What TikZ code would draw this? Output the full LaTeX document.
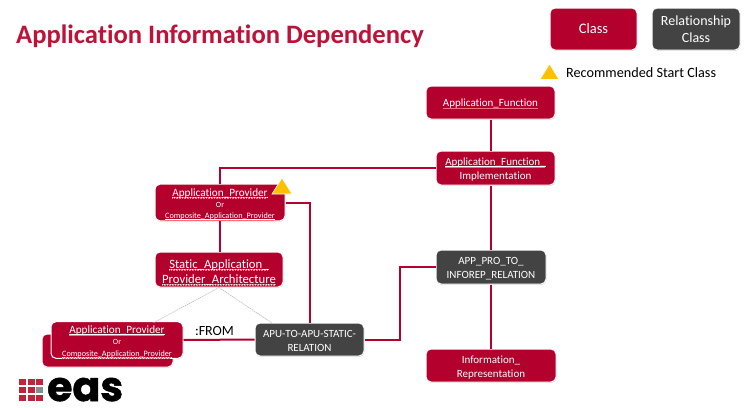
\documentclass[tikz,border=0pt]{standalone}
\usepackage{fontspec}
\setmainfont{Carlito}[Ligatures=NoCommon]
\newfontfamily\logofont{Poppins}[BoldFeatures={FakeBold=1.3}]
\usetikzlibrary{shadows,calc}
\definecolor{classred}{HTML}{B3002D}
\definecolor{relgrey}{HTML}{434343}
\definecolor{titlered}{HTML}{BE1238}
\definecolor{startyellow}{HTML}{FFC000}
\definecolor{logored}{HTML}{C0243C}
\definecolor{squig}{HTML}{F2707A}
\newsavebox\sqbox
\newcommand\sq[1]{\sbox\sqbox{#1}\rlap{\color{white}\rule[-1.1pt]{\wd\sqbox}{0.45pt}}\rlap{\color{squig}\hbox to\wd\sqbox{\leaders\hbox{\rule[-2.1pt]{0.8pt}{0.6pt}\rule[-1.6pt]{0.8pt}{0.6pt}}\hfil}}\usebox\sqbox}
\newcommand\lift[1]{\rule{0pt}{#1pt}}
\tikzset{
  x=1pt,y=-1pt,
  boxbase/.style={rounded corners=5pt,draw=white,line width=1pt,text=white,align=center,inner sep=0pt,
    drop shadow={shadow xshift=0.4pt,shadow yshift=-0.8pt,opacity=0.3,fill=black!70}},
  classbox/.style={boxbase,fill=classred},
  relbox/.style={boxbase,fill=relgrey},
  conn/.style={draw=classred,line width=2pt},
  fromline/.style={draw=black!30,line width=0.5pt,dash pattern=on 1.5pt off 0.7pt},
  startmark/.style={fill=startyellow,draw=white,line width=0.6pt},
  logosq/.style={fill=logored},
}
\newcommand\boxat[7]{\node[#1,minimum width=#6 pt - #4 pt,minimum height=#7 pt - #5 pt] (#2) at ({(#4+#6)/2},{(#5+#7)/2}) {#3};}
\begin{document}
\begin{tikzpicture}
\useasboundingbox (0,0) rectangle (744,407);
\fill[white] (0,0) rectangle (744,407);
% nodes
\node[anchor=west,text=titlered,font=\fontsize{26.6}{28}\selectfont\bfseries,inner sep=0pt] (title) at (16,36) {Application Information Dependency};
\boxat{classbox,font=\fontsize{14.5}{15}\selectfont}{legclass}{Class}{550}{8}{637}{50}
\boxat{relbox,font=\fontsize{14}{17}\selectfont}{legrel}{Relationship\\Class}{652}{8}{740}{50}
\node[anchor=west,font=\fontsize{14.2}{15}\selectfont,inner sep=0pt] (legstart) at (566,73) {Recommended Start Class};
\boxat{classbox,font=\fontsize{11}{14}\selectfont}{af}{\lift{11}\sq{Application\_Function}}{426}{86}{555}{119}
\boxat{classbox,font=\fontsize{11}{14}\selectfont}{afi}{\lift{11}\sq{Application\_Function\_}\\Implementation}{436}{151}{555}{185}
\boxat{relbox,font=\fontsize{11}{14}\selectfont}{pro}{\lift{11}APP\_PRO\_TO\_\\INFOREP\_RELATION}{436}{250}{546}{284}
\boxat{classbox,font=\fontsize{11}{14}\selectfont}{info}{\lift{11}Information\_\\Representation}{426}{349}{556}{382}
\boxat{relbox,font=\fontsize{11}{14}\selectfont}{apu}{\lift{11}APU-TO-APU-STATIC-\\RELATION}{255}{323}{364}{356}
\boxat{classbox}{ap}{\fontsize{11.2}{11}\selectfont\lift{12}\sq{Application\_Provider}\\[-1pt]{\fontsize{8}{10}\selectfont Or}\\[-0.5pt]{\fontsize{8.2}{10}\selectfont\sq{Composite\_Application\_Provider}}}{155}{186}{285}{219}
\boxat{classbox,font=\fontsize{12.7}{15}\selectfont}{sapa}{\lift{15}\sq{Static\_Application\_}\\\sq{Provider\_Architecture}}{155}{252}{283}{287}
\boxat{classbox}{backap}{}{42}{334}{173}{367}
\boxat{classbox}{frontap}{\fontsize{11.2}{11}\selectfont\lift{12}\sq{Application\_Provider}\\[-1pt]{\fontsize{8}{10}\selectfont Or}\\[-0.5pt]{\fontsize{8.2}{10}\selectfont\sq{Composite\_Application\_Provider}}}{51}{323}{183}{357}
\node[font=\fontsize{14}{15}\selectfont,inner sep=0pt] (from) at (214.5,331) {:FROM};
% connectors
\coordinate (bend) at (400,300);
\coordinate (dashl) at (153,323);
\coordinate (dashr) at (272,323);
\draw[conn] (af.south) -- (af.south |- afi.north);
\draw[conn] (afi.west) -| (ap.north);
\draw[conn] (ap.south) -- (ap.south |- sapa.north);
\draw[conn] (ap.east) -| (apu.north);
\draw[conn] (frontap.east) -- (apu.west);
\draw[conn] (apu.east) -| (bend) |- (pro.west);
\draw[conn] (pro.north) -- (pro.north |- afi.south);
\draw[conn] (pro.south) -- (pro.south |- info.north);
\draw[fromline] (sapa.south) -- (dashl);
\draw[fromline] (sapa.south) -- (dashr);
% start markers
\path[startmark] (540,79.5) -- (549.5,64) -- (559,79.5) -- cycle;
\path[startmark] (272,194) -- (282,178) -- (292,194) -- cycle;
% logo
\foreach \r in {0,1,2}{\foreach \c in {0,1,2}{\fill[logosq] ({19+\c*8.6},{379+\r*7.8}) rectangle +(6.9,6.4);}}
\fill[black!45] ({19+2*8.6},{379+7.8}) rectangle +(6.9,6.4);
\node[anchor=base west,inner sep=0pt,font=\logofont\bfseries\fontsize{41}{42}\selectfont] (logo) at (47,401) {eas};
\end{tikzpicture}
\end{document}
